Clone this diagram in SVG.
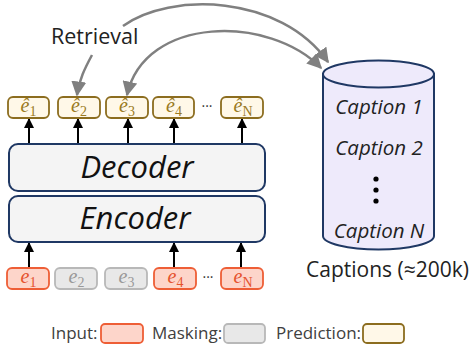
<svg xmlns="http://www.w3.org/2000/svg" width="471" height="348" viewBox="0 0 471 348">
  <style>
    .lbl { font-family: "Open Sans", "Liberation Sans", sans-serif; fill: #222; }
    .block { fill: #F4F4F4; stroke: #1F3864; stroke-width: 2; }
    .blockText { font-family: "Open Sans", "Liberation Sans", sans-serif; font-style: italic; font-size: 31px; fill: #111; text-anchor: middle; }
    .pred { fill: #FFF8E8; stroke: #8C6D1F; stroke-width: 1.8; }
    .inp { fill: #FDD5CA; stroke: #EE5E36; stroke-width: 1.8; }
    .mask { fill: #E8E8E8; stroke: #B8B8B8; stroke-width: 1.8; }
    .math { font-family: "Liberation Serif", "DejaVu Serif", serif; font-style: italic; font-size: 20px; text-anchor: middle; }
    .sub { font-size: 14px; font-style: normal; }
    .predT { fill: #9A7A22; }
    .inpT { fill: #E5522E; }
    .maskT { fill: #999999; }
    .up { stroke: #000; stroke-width: 2; fill: none; marker-end: url(#blk); }
    .ret { stroke: #808080; stroke-width: 2.5; fill: none; }
    .capT { font-family: "Open Sans", "Liberation Sans", sans-serif; font-style: italic; font-size: 20.5px; fill: #222; text-anchor: middle; }
    .dots { font-family: "Open Sans", sans-serif; font-size: 14px; fill: #333; text-anchor: middle; }
    .leg { font-family: "Open Sans", "Liberation Sans", sans-serif; font-size: 17px; fill: #404040; }
  </style>
  <defs>
    <marker id="blk" viewBox="0 0 10 10" refX="9" refY="5" markerWidth="10" markerHeight="10" markerUnits="userSpaceOnUse" orient="auto">
      <path d="M0,0 L10,5 L0,10 z" fill="#000"/>
    </marker>
    <marker id="gry" viewBox="0 0 10 10" refX="9" refY="5" markerWidth="15" markerHeight="15" markerUnits="userSpaceOnUse" orient="auto-start-reverse">
      <path d="M0,0 L10,5 L0,10 z" fill="#808080"/>
    </marker>
  </defs>

  <!-- retrieval connectors -->
  <g id="connectors">
    <path class="ret" d="M123,26 C170,-8 280,-6 328,62" marker-end="url(#gry)"/>
    <path class="ret" d="M321,68 C270,15 145,15 127,95" marker-start="url(#gry)" marker-end="url(#gry)"/>
    <path class="ret" d="M92,55 C85,68 79,80 77,95" marker-end="url(#gry)"/>
    <!-- decoder to predictions -->
    <line class="up" x1="29" y1="144" x2="29" y2="119"/>
    <line class="up" x1="78" y1="144" x2="78" y2="119"/>
    <line class="up" x1="128" y1="144" x2="128" y2="119"/>
    <line class="up" x1="174" y1="144" x2="174" y2="119"/>
    <line class="up" x1="242" y1="144" x2="242" y2="119"/>
    <!-- inputs to encoder -->
    <line class="up" x1="29" y1="268" x2="29" y2="243"/>
    <line class="up" x1="174" y1="268" x2="174" y2="243"/>
    <line class="up" x1="241" y1="268" x2="241" y2="243"/>
  </g>

  <text class="lbl" x="51" y="44" font-size="21.5">Retrieval</text>

  <!-- predicted tokens -->
  <g id="pred1"><rect class="pred" x="8" y="97" width="41" height="21" rx="5"/><text class="math predT" x="28.5" y="112">ê<tspan class="sub" dy="4">1</tspan></text></g>
  <g id="pred2"><rect class="pred" x="58" y="97" width="42" height="21" rx="5"/><text class="math predT" x="79" y="112">ê<tspan class="sub" dy="4">2</tspan></text></g>
  <g id="pred3"><rect class="pred" x="106" y="97" width="42" height="21" rx="5"/><text class="math predT" x="127" y="112">ê<tspan class="sub" dy="4">3</tspan></text></g>
  <g id="pred4"><rect class="pred" x="153" y="97" width="41" height="21" rx="5"/><text class="math predT" x="174" y="112">ê<tspan class="sub" dy="4">4</tspan></text></g>
  <text class="dots" x="207" y="111">···</text>
  <g id="predN"><rect class="pred" x="221" y="97" width="42" height="21" rx="5"/><text class="math predT" x="243" y="112">ê<tspan class="sub" dy="4">N</tspan></text></g>

  <!-- transformer blocks -->
  <g id="decoder"><rect class="block" x="9" y="144" width="256" height="47" rx="9"/><text class="blockText" x="137" y="178">Decoder</text></g>
  <g id="encoder"><rect class="block" x="9" y="196" width="256" height="46" rx="9"/><text class="blockText" x="135" y="229">Encoder</text></g>

  <!-- input tokens -->
  <g id="in1"><rect class="inp" x="7" y="268" width="42" height="21" rx="5"/><text class="math inpT" x="28.5" y="283">e<tspan class="sub" dy="4">1</tspan></text></g>
  <g id="in2"><rect class="mask" x="55" y="268" width="42" height="21" rx="5"/><text class="math maskT" x="76.5" y="283">e<tspan class="sub" dy="4">2</tspan></text></g>
  <g id="in3"><rect class="mask" x="105" y="268" width="42" height="21" rx="5"/><text class="math maskT" x="126.5" y="283">e<tspan class="sub" dy="4">3</tspan></text></g>
  <g id="in4"><rect class="inp" x="154" y="268" width="42" height="21" rx="5"/><text class="math inpT" x="175.5" y="283">e<tspan class="sub" dy="4">4</tspan></text></g>
  <text class="dots" x="208" y="282">···</text>
  <g id="inN"><rect class="inp" x="221" y="268" width="42" height="21" rx="5"/><text class="math inpT" x="243" y="283">e<tspan class="sub" dy="4">N</tspan></text></g>

  <!-- caption database -->
  <g id="captions">
    <path d="M323,74 L323,236 A55.5,13.5 0 0 0 434,236 L434,74 Z" fill="#EEEAFB" stroke="#1F3864" stroke-width="2"/>
    <ellipse cx="378.5" cy="74" rx="55.5" ry="13.5" fill="#EEEAFB" stroke="#1F3864" stroke-width="2"/>
    <text class="capT" x="379" y="114">Caption 1</text>
    <text class="capT" x="379" y="155">Caption 2</text>
    <circle cx="376" cy="179" r="2.6" fill="#000"/>
    <circle cx="376" cy="190" r="2.6" fill="#000"/>
    <circle cx="376" cy="201" r="2.6" fill="#000"/>
    <text class="capT" x="379" y="238">Caption N</text>
    <text class="lbl" x="387.5" y="277" font-size="21" text-anchor="middle">Captions (≈200k)</text>
  </g>

  <!-- legend -->
  <g id="legend">
    <text class="leg" x="51" y="339">Input:</text>
    <rect class="inp" x="101" y="324" width="42" height="19" rx="4"/>
    <text class="leg" x="152" y="339">Masking:</text>
    <rect class="mask" x="224" y="324" width="41" height="19" rx="4"/>
    <text class="leg" x="276" y="339">Prediction:</text>
    <rect class="pred" x="363" y="324" width="41" height="19" rx="4"/>
  </g>
</svg>
